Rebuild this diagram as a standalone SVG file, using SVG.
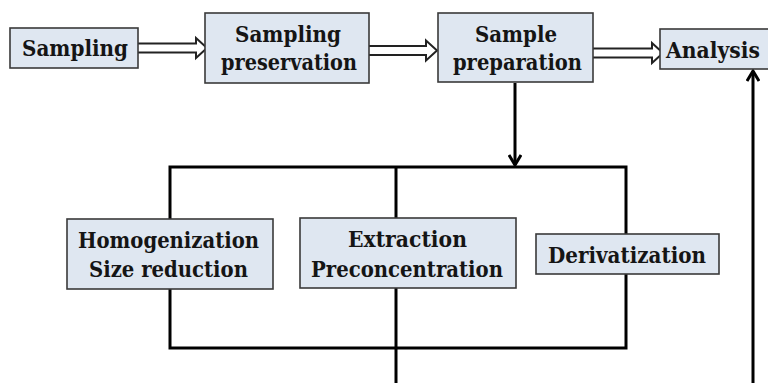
<svg xmlns="http://www.w3.org/2000/svg" width="768" height="383" viewBox="0 0 768 383">
<style>
.box{fill:#dfe7f1;stroke:#3a3a3a;stroke-width:1.6}
.t{font-family:'DejaVu Serif','Liberation Serif',serif;font-weight:700;font-size:23px;fill:#151515;text-anchor:middle}
.ln{fill:none;stroke:#000;stroke-width:3}
.dbl{fill:#fff;stroke:#222;stroke-width:2;stroke-linejoin:miter}
</style>
<defs>
<marker id="ah" viewBox="0 0 14 14" refX="12" refY="7" markerWidth="14" markerHeight="14" markerUnits="userSpaceOnUse" orient="auto">
<path d="M2,1 L12,7 L2,13" fill="none" stroke="#000" stroke-width="3"/>
</marker>
</defs>
<rect width="768" height="383" fill="#fff"/>
<g id="connectors">
<rect x="170" y="167" width="456" height="181" class="ln"/>
<line x1="396" y1="167" x2="396" y2="383" class="ln"/>
<line x1="515" y1="83" x2="515" y2="165" class="ln" marker-end="url(#ah)"/>
<line x1="753" y1="383" x2="753" y2="71" class="ln" marker-end="url(#ah)"/>
<path class="dbl" d="M138,43.5 H196 V38 L207,48 L196,58 V52.5 H138"/>
<path class="dbl" d="M369,46 H426 V40.5 L437,50.5 L426,60.5 V55 H369"/>
<path class="dbl" d="M593,48.5 H652 V43 L663,53 L652,63 V57.5 H593"/>
</g>
<g id="sampling">
<rect x="10" y="28" width="128" height="40" class="box"/>
<text x="75" y="56" class="t" textLength="106" lengthAdjust="spacingAndGlyphs">Sampling</text>
</g>
<g id="preservation">
<rect x="205" y="13" width="164" height="70" class="box"/>
<text x="288" y="42" class="t" textLength="106" lengthAdjust="spacingAndGlyphs">Sampling</text>
<text x="289" y="70" class="t" textLength="136" lengthAdjust="spacingAndGlyphs">preservation</text>
</g>
<g id="preparation">
<rect x="438" y="13" width="155" height="69" class="box"/>
<text x="516" y="42" class="t" textLength="82" lengthAdjust="spacingAndGlyphs">Sample</text>
<text x="517.5" y="70" class="t" textLength="129" lengthAdjust="spacingAndGlyphs">preparation</text>
</g>
<g id="analysis">
<rect x="660" y="29" width="120" height="40" class="box"/>
<text x="666" y="58" class="t" style="text-anchor:start" textLength="94" lengthAdjust="spacingAndGlyphs">Analysis</text>
</g>
<g id="homogenization">
<rect x="67" y="219" width="206" height="70" class="box"/>
<text x="168.5" y="248" class="t" textLength="181" lengthAdjust="spacingAndGlyphs">Homogenization</text>
<text x="168.5" y="277" class="t" textLength="159" lengthAdjust="spacingAndGlyphs">Size reduction</text>
</g>
<g id="extraction">
<rect x="300" y="218" width="216" height="70" class="box"/>
<text x="407.5" y="247" class="t" textLength="119" lengthAdjust="spacingAndGlyphs">Extraction</text>
<text x="407" y="277" class="t" textLength="192" lengthAdjust="spacingAndGlyphs">Preconcentration</text>
</g>
<g id="derivatization">
<rect x="536" y="234" width="183" height="40" class="box"/>
<text x="627" y="263" class="t" textLength="158" lengthAdjust="spacingAndGlyphs">Derivatization</text>
</g>
</svg>
